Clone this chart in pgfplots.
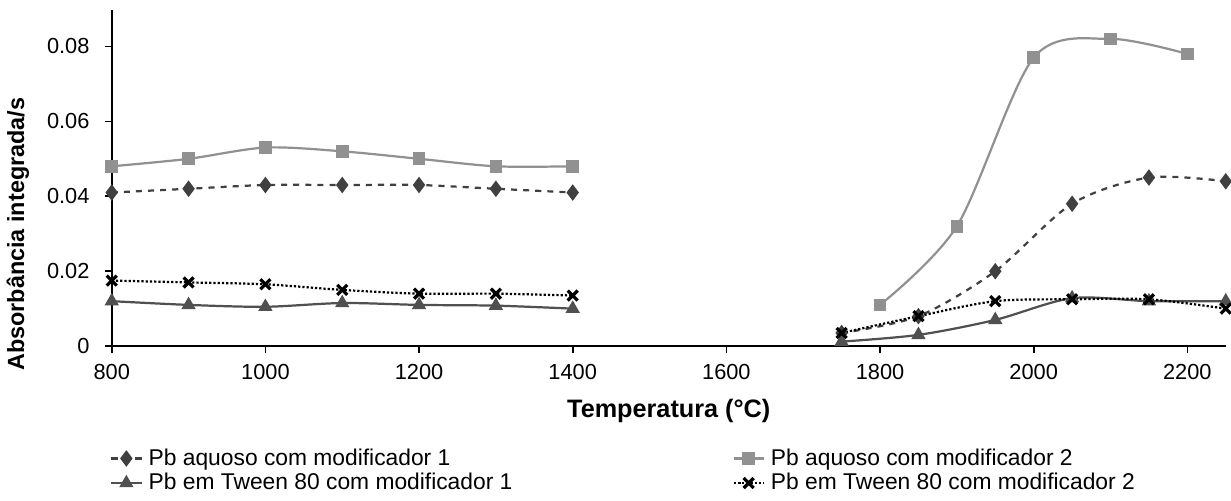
\documentclass[border=0pt]{standalone}
\usepackage{fontspec}
\setmainfont{Liberation Sans}
\usepackage{pgfplots}
\pgfplotsset{compat=1.18}
\definecolor{sA}{RGB}{64,64,64}
\definecolor{sB}{RGB}{145,145,145}
\definecolor{sC}{RGB}{80,80,80}
\definecolor{sD}{RGB}{0,0,0}
\begin{document}
\begin{tikzpicture}[x=0.5pt,y=0.5pt]
\begin{axis}[
  name=ax,
  scale only axis,
  width=552pt, height=166.5pt,
  xmin=800, xmax=2250, ymin=0, ymax=0.0897,
  axis lines=left,
  axis line style={-, thick},
  tick align=outside,
  tick style={black, thick},
  major tick length=3.5pt,
  xtick={800,1000,...,2200},
  ytick={0,0.02,0.04,0.06,0.08},
  yticklabels={0,0.02,0.04,0.06,0.08},
  scaled y ticks=false,
  /pgf/number format/assume math mode=true,
  /pgf/number format/1000 sep={},
  tick label style={font=\fontsize{10.8pt}{12pt}\selectfont},
  yticklabel style={xshift=-4pt},
  xticklabel style={yshift=-2pt},
  xlabel={\bfseries Temperatura (°C)},
  ylabel={\bfseries Absorbância integrada/s},
  xlabel style={font=\fontsize{12.5pt}{14pt}\selectfont, yshift=-3pt},
  ylabel style={font=\fontsize{11.6pt}{14pt}\selectfont, at={(ticklabel cs:0.333)}, yshift=2pt},
  unbounded coords=jump,
  legend columns=2,
  legend cell align=left,
  legend image code/.code={\draw[mark repeat=2,mark phase=2] plot coordinates {(0pt,0pt)(7.5pt,0pt)(15pt,0pt)};},
  legend style={draw=none, at={(0,-0.28)}, anchor=north west, xshift=-4pt,
    font=\fontsize{11.3pt}{13pt}\selectfont, row sep=-1.5pt,
    /tikz/every odd column/.append style={column sep=1pt},
    /tikz/every even column/.append style={column sep=107pt}},
  every axis plot/.append style={line width=1.1pt, smooth, tension=0.5},
]
\addplot[color=sA, dashed, mark=diamond*, mark size=3.2pt, mark options={solid}] coordinates {
 (800,0.041) (900,0.042) (1000,0.043) (1100,0.043) (1200,0.043) (1300,0.042) (1400,0.041)
 (1500,nan)
 (1750,0.0035) (1850,0.008) (1950,0.020) (2050,0.038) (2150,0.045) (2250,0.044)};
\addlegendentry{Pb aquoso com modificador 1}
\addplot[color=sB, mark=square*, mark size=2.6pt] coordinates {
 (800,0.048) (900,0.050) (1000,0.053) (1100,0.052) (1200,0.050) (1300,0.048) (1400,0.048)
 (1500,nan)
 (1800,0.011) (1900,0.032) (2000,0.077) (2100,0.082) (2200,0.078)};
\addlegendentry{Pb aquoso com modificador 2}
\addplot[color=sC, mark=triangle*, mark size=3pt] coordinates {
 (800,0.012) (900,0.011) (1000,0.0105) (1100,0.0115) (1200,0.011) (1300,0.0108) (1400,0.010)
 (1500,nan)
 (1750,0.0012) (1850,0.003) (1950,0.007) (2050,0.0128) (2150,0.012) (2250,0.012)};
\addlegendentry{Pb em Tween 80 com modificador 1}
\addplot[color=sD, densely dotted, mark=x, mark size=3.5pt, mark options={solid, line width=1.6pt}] coordinates {
 (800,0.0175) (900,0.017) (1000,0.0165) (1100,0.015) (1200,0.014) (1300,0.014) (1400,0.0135)
 (1500,nan)
 (1750,0.0035) (1850,0.008) (1950,0.012) (2050,0.0125) (2150,0.0125) (2250,0.010)};
\addlegendentry{Pb em Tween 80 com modificador 2}
\end{axis}
\path ([yshift=5pt]ax.north west) -- ([yshift=5pt]ax.north east);
\end{tikzpicture}
\end{document}
